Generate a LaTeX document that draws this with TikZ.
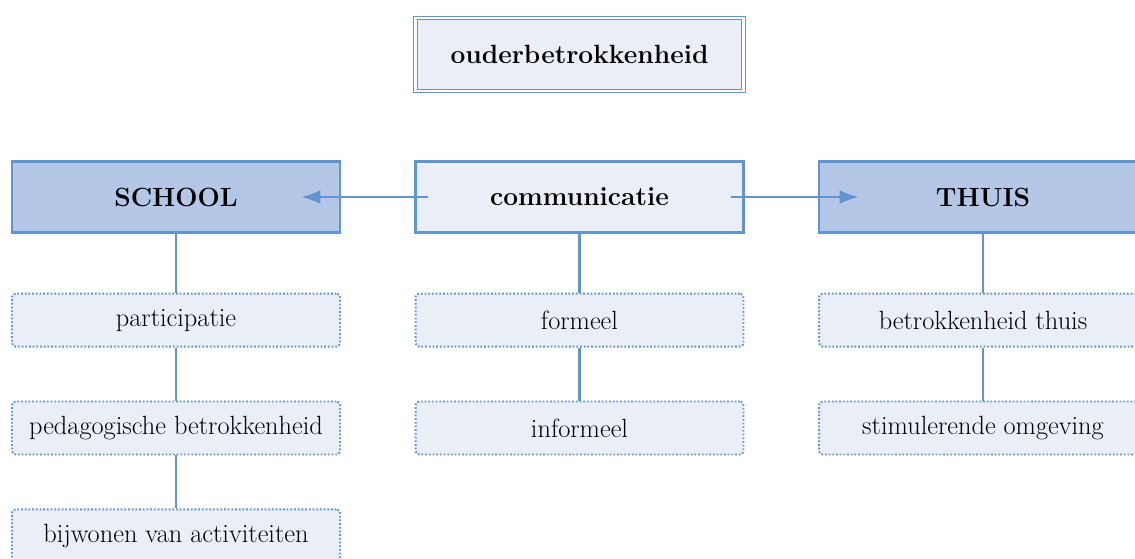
\documentclass[tikz,border=0pt]{standalone}
\usepackage{tikz}
\usetikzlibrary{positioning,arrows.meta}

\definecolor{lijnblauw}{RGB}{98,148,210}
\definecolor{donkervak}{RGB}{180,199,231}
\definecolor{lichtvak}{RGB}{233,238,247}

\tikzset{
    basis/.style={minimum width=6.56cm, inner sep=0pt, font=\fontsize{15}{18}\selectfont},
    titelvak/.style={basis, draw=lijnblauw, line width=0.8pt, double=white, double distance=1.2pt,
        fill=lichtvak, minimum height=1.46cm, font=\fontsize{15}{18}\selectfont\bfseries},
    hoofdvak/.style={basis, draw=lijnblauw, line width=1.3pt, fill=donkervak, minimum height=1.42cm,
        font=\fontsize{15}{18}\selectfont\bfseries},
    middenvak/.style={hoofdvak, fill=lichtvak},
    subvak/.style={basis, draw=lijnblauw, line width=1.1pt, dash pattern=on 1pt off 1.1pt,
        rounded corners=2pt, fill=lichtvak, minimum height=1.06cm},
    verbind/.style={draw=lijnblauw, line width=1.6pt},
    pijl/.style={verbind, -{Latex[length=11pt,width=8pt]}}
}

\begin{document}
\begin{tikzpicture}[x=0.02cm, y=-0.02cm]
    %
    \useasboundingbox (0,0) rectangle (1135,558);
    \clip (0,0) rectangle (1135,558);

    % bovenste rij
    \node[titelvak] (ouder) at (579.5,54.5) {ouderbetrokkenheid};

    \node[hoofdvak] (school) at (176,197) {SCHOOL};
    \node[middenvak] (comm) at (579.5,197) {communicatie};
    \node[hoofdvak] (thuis) at (983,197) {THUIS};

    % onderliggende vakken
    \node[subvak, below=1.18cm of school] (part) {participatie};
    \node[subvak, below=1.06cm of part] (peda) {pedagogische betrokkenheid};
    \node[subvak, below=1.06cm of peda] (bijw) {bijwonen van activiteiten};

    \node[subvak, below=1.18cm of comm] (form) {formeel};
    \node[subvak, below=1.06cm of form] (inform) {informeel};

    \node[subvak, below=1.18cm of thuis] (bthuis) {betrokkenheid thuis};
    \node[subvak, below=1.06cm of bthuis] (stim) {stimulerende omgeving};

    % pijlen
    \draw[pijl] ([xshift=0.28cm]comm.west) -- ([xshift=-0.8cm]school.east);
    \draw[pijl] ([xshift=-0.28cm]comm.east) -- ([xshift=0.82cm]thuis.west);

    % lijnen
    \foreach \a/\b in {school/part, part/peda, peda/bijw, comm/form, form/inform, thuis/bthuis, bthuis/stim} {
        \draw[verbind] (\a.south) -- (\b.north);
    }
\end{tikzpicture}
\end{document}
